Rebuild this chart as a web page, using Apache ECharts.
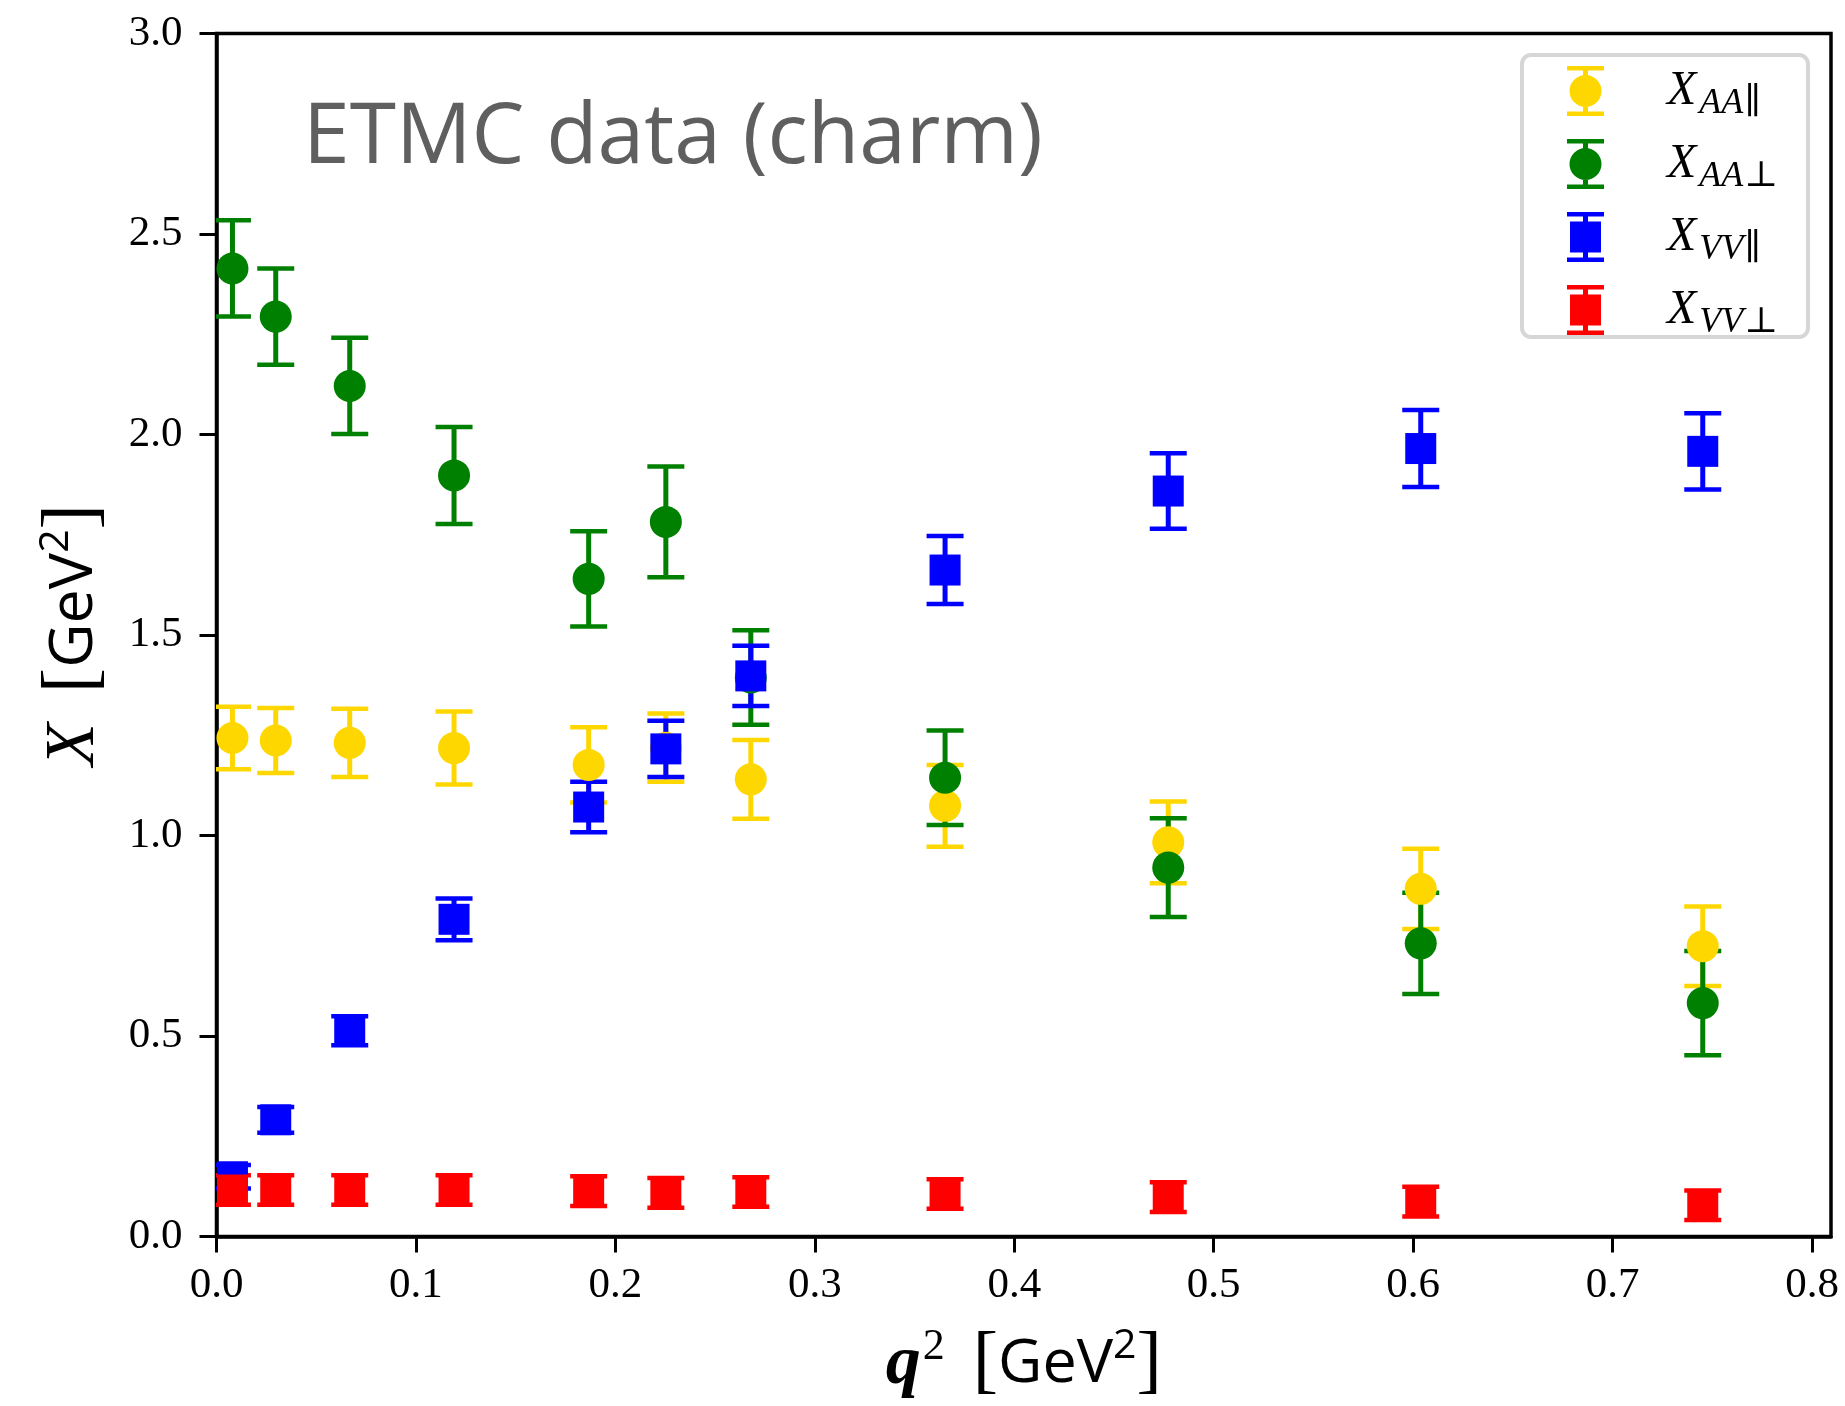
<!DOCTYPE html>
<html>
<head>
<meta charset="utf-8">
<script src="https://cdn.jsdelivr.net/npm/echarts@6/dist/echarts.min.js"></script>
<style>
html,body{margin:0;padding:0;background:#ffffff;}
#chart{width:1845px;height:1406px;}
</style>
</head>
<body>
<div id="chart"></div>
<script>
// ---- data ----
const q2 = [0.0080, 0.0297, 0.0668, 0.1191, 0.1866, 0.2253, 0.2679, 0.3653, 0.4772, 0.6038, 0.7452];

const xAApar    = [1.243, 1.237, 1.231, 1.218, 1.176, 1.219, 1.140, 1.074, 0.983, 0.867, 0.724];
const errAApar  = [0.078, 0.081, 0.085, 0.091, 0.094, 0.085, 0.098, 0.102, 0.102, 0.100, 0.099];

const xAAperp   = [2.414, 2.294, 2.121, 1.898, 1.640, 1.782, 1.394, 1.144, 0.920, 0.731, 0.582];
const errAAperp = [0.120, 0.120, 0.120, 0.121, 0.119, 0.138, 0.118, 0.118, 0.123, 0.126, 0.130];

const xVVpar    = [0.149, 0.291, 0.513, 0.791, 1.071, 1.216, 1.398, 1.662, 1.859, 1.965, 1.958];
const errVVpar  = [0.029, 0.032, 0.036, 0.052, 0.063, 0.070, 0.075, 0.085, 0.094, 0.096, 0.095];

const xVVperp   = [0.116, 0.116, 0.116, 0.116, 0.113, 0.109, 0.111, 0.106, 0.098, 0.087, 0.078];
const errVVperp = [0.037, 0.037, 0.037, 0.037, 0.037, 0.037, 0.037, 0.037, 0.037, 0.037, 0.037];

const xTicks = [0.0, 0.1, 0.2, 0.3, 0.4, 0.5, 0.6, 0.7, 0.8];
const yTicks = [0.0, 0.5, 1.0, 1.5, 2.0, 2.5, 3.0];

const seriesNames = ['AApar', 'AAperp', 'VVpar', 'VVperp'];
const legendLabels = {
  AApar:  '{X|X}{s|AA}{u|\u2225}',
  AAperp: '{X|X}{s|AA}{u|\u22A5}',
  VVpar:  '{X|X}{s|VV}{u|\u2225}',
  VVperp: '{X|X}{s|VV}{u|\u22A5}'
};
const titleText = 'ETMC data (charm)';

// ---- styling ----
const colors = { AApar: '#FFD700', AAperp: '#008000', VVpar: '#0000FF', VVperp: '#FF0000' };
const serif = '"Liberation Serif", "DejaVu Serif", serif';
const sans = '"Open Sans", "DejaVu Sans", sans-serif';

const iconCircle = 'path://M0,0L37,0L37,4.5L0,4.5Z M16,0L21,0L21,50L16,50Z M0,45.5L37,45.5L37,50L0,50Z M2.5,25A16,16,0,1,1,34.5,25A16,16,0,1,1,2.5,25Z';
const iconSquare = 'path://M0,0L37,0L37,4.5L0,4.5Z M16,0L21,0L21,50L16,50Z M0,45.5L37,45.5L37,50L0,50Z M3,9.5L34,9.5L34,40.5L3,40.5Z';

function rows(vals, errs) {
  return q2.map((x, i) => [x, vals[i], errs[i]]);
}

function errSeries(name, vals, errs) {
  const color = colors[name];
  return {
    type: 'custom',
    name: name + '_err',
    clip: true,
    silent: true,
    data: rows(vals, errs),
    encode: { x: 0, y: 1 },
    renderItem: function (params, api) {
      const x = api.value(0), y = api.value(1), e = api.value(2);
      const top = api.coord([x, y + e]);
      const bot = api.coord([x, y - e]);
      const hw = 18.5;
      const capStyle = { stroke: color, lineWidth: 4.5, fill: null };
      return {
        type: 'group',
        children: [
          { type: 'line', shape: { x1: top[0], y1: top[1], x2: bot[0], y2: bot[1] }, style: { stroke: color, lineWidth: 5, fill: null } },
          { type: 'line', shape: { x1: top[0] - hw, y1: top[1], x2: top[0] + hw, y2: top[1] }, style: capStyle },
          { type: 'line', shape: { x1: bot[0] - hw, y1: bot[1], x2: bot[0] + hw, y2: bot[1] }, style: capStyle }
        ]
      };
    }
  };
}

function markSeries(name, vals, symbol, size) {
  return {
    type: 'scatter',
    name: name,
    symbol: symbol,
    symbolSize: size,
    clip: true,
    itemStyle: { color: colors[name], opacity: 1 },
    emphasis: { disabled: true },
    data: q2.map((x, i) => [x, vals[i]])
  };
}

const chart = echarts.init(document.getElementById('chart'), null, { renderer: 'canvas' });

const option = {
  backgroundColor: '#ffffff',
  animation: false,
  grid: {
    left: 216.5, top: 33.5, right: 14, bottom: 169.5,
    outerBoundsMode: 'none', containLabel: false,
    show: true, borderColor: '#000', borderWidth: 3.5, backgroundColor: 'transparent'
  },
  xAxis: {
    type: 'value', min: 0, max: 0.8095, interval: 0.1,
    name: '{q|q}{qs|2}{sp| }{b|[}{g|GeV}{p|2}{b|]}',
    nameLocation: 'middle', nameGap: 90,
    nameTextStyle: {
      color: '#000',
      rich: {
        q:  { fontFamily: serif, fontStyle: 'italic', fontWeight: 'bold', fontSize: 70, lineHeight: 72, verticalAlign: 'middle' },
        qs: { fontFamily: serif, fontSize: 44, lineHeight: 44, padding: [0, 0, 34, 2], verticalAlign: 'middle' },
        sp: { fontSize: 40, width: 28 },
        b:  { fontFamily: serif, fontSize: 76, lineHeight: 76, verticalAlign: 'middle' },
        g:  { fontFamily: sans, fontSize: 61, lineHeight: 62, verticalAlign: 'middle' },
        p:  { fontFamily: sans, fontSize: 41, lineHeight: 42, padding: [0, 0, 36, 0], verticalAlign: 'middle' }
      }
    },
    axisLine: { show: true, onZero: false, lineStyle: { color: '#000', width: 3.5 } },
    axisTick: { show: true, inside: false, length: 16, lineStyle: { color: '#000', width: 3 }, customValues: xTicks },
    axisLabel: {
      show: true, margin: 28, color: '#000', fontFamily: serif, fontSize: 43,
      customValues: xTicks,
      formatter: v => v.toFixed(1)
    },
    splitLine: { show: false }
  },
  yAxis: {
    type: 'value', min: 0, max: 3.0, interval: 0.5,
    name: '{x|X}{sp| }{b|[}{g|GeV}{p|2}{b|]}',
    nameLocation: 'middle', nameRotate: 90, nameGap: 104,
    nameTextStyle: {
      color: '#000',
      rich: {
        x:  { fontFamily: serif, fontStyle: 'italic', fontSize: 70, lineHeight: 72, verticalAlign: 'middle' },
        sp: { fontSize: 40, width: 30 },
        b:  { fontFamily: serif, fontSize: 76, lineHeight: 76, verticalAlign: 'middle' },
        g:  { fontFamily: sans, fontSize: 61, lineHeight: 62, verticalAlign: 'middle' },
        p:  { fontFamily: sans, fontSize: 41, lineHeight: 42, padding: [0, 0, 36, 0], verticalAlign: 'middle' }
      }
    },
    axisLine: { show: true, onZero: false, lineStyle: { color: '#000', width: 3.5 } },
    axisTick: { show: true, inside: false, length: 17, lineStyle: { color: '#000', width: 3 } },
    axisLabel: {
      show: true, margin: 34, color: '#000', fontFamily: serif, fontSize: 43,
      formatter: v => v.toFixed(1)
    },
    splitLine: { show: false }
  },
  legend: {
    show: true,
    orient: 'vertical',
    left: 1567, top: 60,
    itemWidth: 37, itemHeight: 50, itemGap: 11,
    padding: 0,
    z: 10,
    selectedMode: false,
    data: [
      { name: 'AApar', icon: iconCircle },
      { name: 'AAperp', icon: iconCircle },
      { name: 'VVpar', icon: iconSquare },
      { name: 'VVperp', icon: iconSquare }
    ],
    formatter: name => legendLabels[name],
    textStyle: {
      color: '#000',
      padding: [0, 0, 0, 58],
      rich: {
        X: { fontFamily: serif, fontStyle: 'italic', fontSize: 48, lineHeight: 48, verticalAlign: 'middle', color: '#000' },
        s: { fontFamily: serif, fontStyle: 'italic', fontSize: 36, lineHeight: 36, padding: [26, 0, 0, 3], verticalAlign: 'middle', color: '#000' },
        u: { fontFamily: serif, fontSize: 36, lineHeight: 36, padding: [26, 0, 0, 1], verticalAlign: 'middle', color: '#000' }
      }
    }
  },
  graphic: [
    {
      type: 'rect', z: 1, silent: true,
      shape: { x: 1522, y: 55, width: 286, height: 282, r: 9 },
      style: { fill: '#ffffff', stroke: '#d6d6d6', lineWidth: 4 }
    },
    {
      type: 'text', z: 5, silent: true,
      left: 303, top: 97,
      style: { text: titleText, fontFamily: sans, fontSize: 84, fill: '#5f5f5f' }
    }
  ],
  series: [
    errSeries('AApar', xAApar, errAApar),
    errSeries('AAperp', xAAperp, errAAperp),
    errSeries('VVpar', xVVpar, errVVpar),
    errSeries('VVperp', xVVperp, errVVperp),
    markSeries('AApar', xAApar, 'circle', 32),
    markSeries('AAperp', xAAperp, 'circle', 32),
    markSeries('VVpar', xVVpar, 'rect', 31),
    markSeries('VVperp', xVVperp, 'rect', 31)
  ]
};

chart.setOption(option);
</script>
</body>
</html>
